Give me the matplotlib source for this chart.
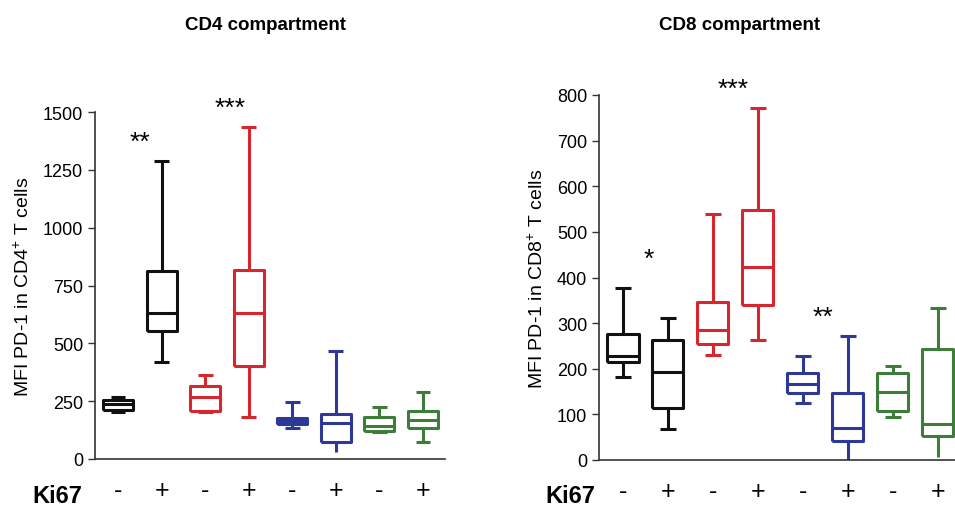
import numpy as np
import matplotlib.pyplot as plt

plt.rcParams['font.family'] = ['Liberation Sans', 'DejaVu Sans']
plt.rcParams['mathtext.fontset'] = 'custom'
plt.rcParams['mathtext.rm'] = 'Liberation Sans'
plt.rcParams['mathtext.it'] = 'Liberation Sans:italic'

# Ki67 -/+ per subset (black, red, blue, green)
ki67 = ['-', '+', '-', '+', '-', '+', '-', '+']
box_colors = ['#111111', '#111111', '#d8262e', '#d8262e',
              '#2e3896', '#2e3896', '#3d7d3a', '#3d7d3a']

# CD4 compartment: whisker low, q1, median, q3, whisker high
cd4_lo = [202, 421, 202, 183, 133, 29, 115, 75]
cd4_q1 = [212, 555, 209, 404, 150, 75, 123, 133]
cd4_med = [238, 630, 267, 630, 166, 156, 144, 170]
cd4_q3 = [257, 812, 317, 819, 176, 195, 183, 208]
cd4_hi = [267, 1287, 361, 1435, 245, 469, 224, 288]
cd4_stars = [(1.5, 1370, '**'), (3.57, 1517, '***')]
cd4_nolowcap = [5]

# CD8 compartment
cd8_lo = [182, 69, 231, 263, 126, 0, 94, 7]
cd8_q1 = [214, 115, 255, 339, 146, 42, 107, 53]
cd8_med = [228, 193, 285, 423, 166, 71, 150, 80]
cd8_q3 = [276, 263, 347, 548, 190, 146, 190, 244]
cd8_hi = [377, 311, 539, 771, 227, 272, 206, 334]
cd8_stars = [(1.58, 440, '*'), (3.44, 813, '***'), (5.44, 313, '**')]
cd8_nolowcap = [5, 7]


def draw_panel(ax, lo, q1, med, q3, hi, stars, nolowcap, ymax, yticks,
               ylabel, xlim):
    stats = []
    for i in range(len(med)):
        stats.append(dict(whislo=lo[i], q1=q1[i], med=med[i], q3=q3[i],
                          whishi=hi[i], fliers=[]))
    pos = np.arange(1, len(med) + 1)
    bp = ax.bxp(stats, positions=pos, widths=0.69, capwidths=0.34,
                showfliers=False, patch_artist=False)
    for i, c in enumerate(box_colors):
        for art in [bp['boxes'][i], bp['medians'][i],
                    bp['whiskers'][2 * i], bp['whiskers'][2 * i + 1],
                    bp['caps'][2 * i], bp['caps'][2 * i + 1]]:
            art.set_color(c)
            art.set_linewidth(2.2)
            art.set_solid_capstyle('butt')
    for i in nolowcap:
        bp['caps'][2 * i].set_visible(False)
    for x, y, s in stars:
        ax.text(x, y, s, ha='center', va='center', fontsize=19,
                clip_on=False)
    ax.set_xlim(*xlim)
    ax.set_ylim(0, ymax)
    ax.set_yticks(yticks)
    ax.set_xticks(pos)
    ax.set_xticklabels(ki67, fontsize=18)
    ax.tick_params(axis='x', length=0, pad=14)
    ax.tick_params(axis='y', labelsize=13, length=5, width=1,
                   color='#333333')
    for s in ['top', 'right']:
        ax.spines[s].set_visible(False)
    for s in ['left', 'bottom']:
        ax.spines[s].set_linewidth(1.2)
        ax.spines[s].set_color('#333333')
    ax.set_ylabel(ylabel, fontsize=14, labelpad=7)


fig = plt.figure(figsize=(9.55, 5.1), dpi=100)
ax1 = fig.add_axes([95 / 955, 50 / 510, 350 / 955, 347 / 510])
ax2 = fig.add_axes([599 / 955, 49 / 510, 356 / 955, 365 / 510])

draw_panel(ax1, cd4_lo, cd4_q1, cd4_med, cd4_q3, cd4_hi, cd4_stars,
           cd4_nolowcap, 1500, [0, 250, 500, 750, 1000, 1250, 1500],
           r'MFI PD-1 in CD4$^{+}$ T cells', (0.472, 8.505))
draw_panel(ax2, cd8_lo, cd8_q1, cd8_med, cd8_q3, cd8_hi, cd8_stars,
           cd8_nolowcap, 800, list(range(0, 801, 100)),
           r'MFI PD-1 in CD8$^{+}$ T cells', (0.467, 8.38))

fig.text(265 / 955, 1 - 25 / 510, 'CD4 compartment', fontsize=13.5,
         fontweight='bold', ha='center', va='center')
fig.text(740 / 955, 1 - 25 / 510, 'CD8 compartment', fontsize=13.5,
         fontweight='bold', ha='center', va='center')
fig.text(57 / 955, 1 - 497 / 510, 'Ki67', fontsize=17, fontweight='bold',
         ha='center', va='center')
fig.text(570 / 955, 1 - 497 / 510, 'Ki67', fontsize=17, fontweight='bold',
         ha='center', va='center')

fig.savefig('out.png', dpi=100)
